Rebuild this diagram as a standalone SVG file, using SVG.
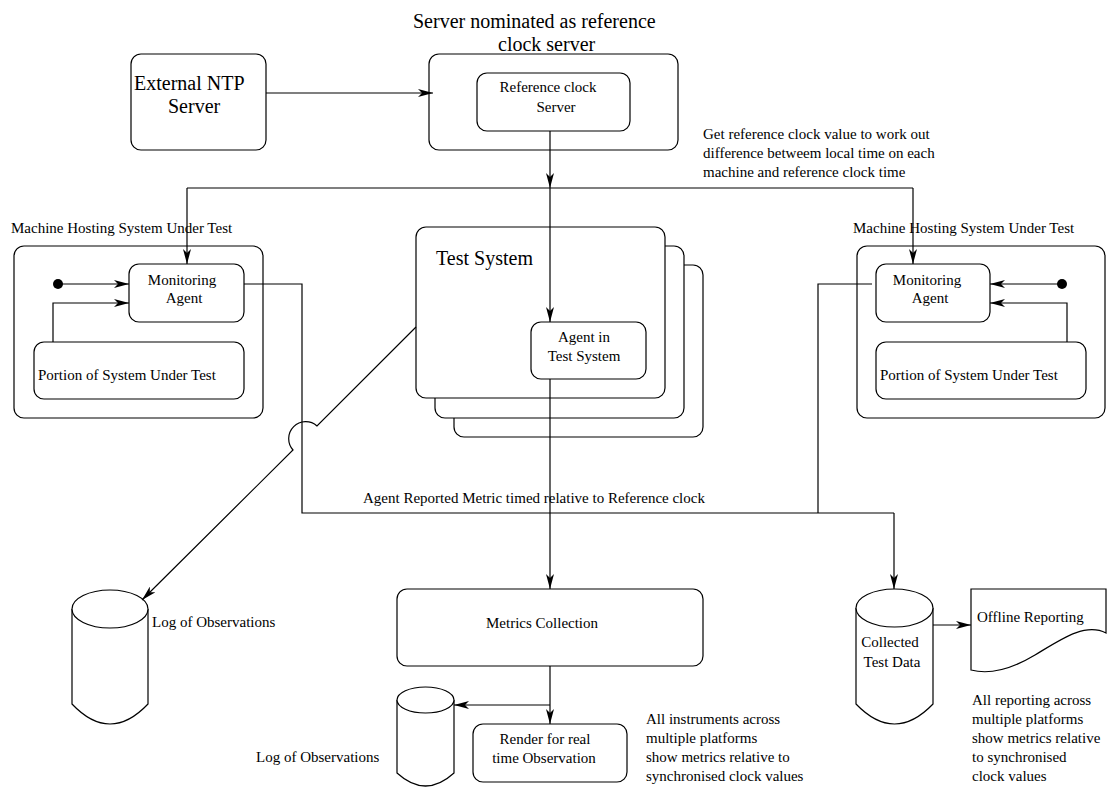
<svg xmlns="http://www.w3.org/2000/svg" width="1107" height="787" viewBox="0 0 1107 787">
<style>
text{font-family:"Liberation Serif","Times New Roman",serif;fill:#000}
.s15{font-size:15px}
.s20{font-size:20px}
.box{fill:#fff;stroke:#000;stroke-width:1.2}
.ln{fill:none;stroke:#000;stroke-width:1.2}
.arr{marker-end:url(#ah)}
.m{text-anchor:middle}
</style>
<defs>
<marker id="ah" viewBox="0 0 15 8" refX="15" refY="4" markerWidth="15" markerHeight="8" markerUnits="userSpaceOnUse" orient="auto">
<path d="M0,0 L15,4 L0,8 L4,4 Z" fill="#000"/>
</marker>
</defs>
<rect width="1107" height="787" fill="#fff"/>

<g id="ntp">
<rect class="box" x="131" y="54" width="135" height="96" rx="10"/>
<text class="s20" x="134" y="90">External NTP</text>
<text class="s20" x="168" y="113">Server</text>
</g>

<g id="refserver">
<text class="s20" x="413" y="28">Server nominated as reference</text>
<text class="s20" x="498" y="51">clock server</text>
<rect class="box" x="429" y="54" width="249" height="96" rx="10"/>
</g>
<g id="refclock">
<rect class="box" x="477" y="73" width="153" height="58" rx="10"/>
<text class="s15 m" x="548" y="92">Reference clock</text>
<text class="s15 m" x="556" y="112">Server</text>
</g>

<text class="s15" x="703" y="139">Get reference clock value to work out</text>
<text class="s15" x="703" y="158">difference betweem local time on each</text>
<text class="s15" x="703" y="177">machine and reference clock time</text>

<g id="machineL">
<text class="s15" x="11" y="233">Machine Hosting System Under Test</text>
<rect class="box" x="14" y="246" width="249" height="172" rx="10"/>
</g>
<g id="monL">
<rect class="box" x="129" y="264" width="115" height="58" rx="10"/>
<text class="s15 m" x="182" y="285">Monitoring</text>
<text class="s15 m" x="184" y="303">Agent</text>
</g>
<g id="portionL">
<rect class="box" x="34" y="342" width="210" height="57" rx="10"/>
<text class="s15" x="38" y="380">Portion of System Under Test</text>
</g>

<g id="machineR">
<text class="s15" x="853" y="233">Machine Hosting System Under Test</text>
<rect class="box" x="857" y="246" width="248" height="172" rx="10"/>
</g>
<g id="monR">
<rect class="box" x="876" y="264" width="114" height="58" rx="10"/>
<text class="s15 m" x="927" y="285">Monitoring</text>
<text class="s15 m" x="930" y="303">Agent</text>
</g>
<g id="portionR">
<rect class="box" x="876" y="342" width="210" height="57" rx="10"/>
<text class="s15" x="880" y="380">Portion of System Under Test</text>
</g>

<g id="testsystem">
<rect class="box" x="454" y="265" width="249" height="172" rx="10"/>
<rect class="box" x="435" y="246" width="249" height="172" rx="10"/>
<rect class="box" x="416" y="227" width="249" height="171" rx="10"/>
<text class="s20" x="436" y="265">Test System</text>
</g>
<g id="agentTS">
<rect class="box" x="531" y="322" width="115" height="57" rx="10"/>
<text class="s15 m" x="584" y="342">Agent in</text>
<text class="s15 m" x="584" y="361">Test System</text>
</g>

<text class="s15" x="363" y="503">Agent Reported Metric timed relative to Reference clock</text>

<g id="logL">
<path class="box" d="M72,609 L72,704 Q110,744 148,704 L148,609"/>
<ellipse class="box" cx="110" cy="609" rx="38" ry="19"/>
<text class="s15" x="152" y="627">Log of Observations</text>
</g>

<g id="metrics">
<rect class="box" x="397" y="589" width="306" height="77" rx="10"/>
<text class="s15 m" x="542" y="628">Metrics Collection</text>
</g>

<g id="logS">
<path class="box" d="M397,700 L397,773 Q425.5,799 454,773 L454,700"/>
<ellipse class="box" cx="425.5" cy="700" rx="28.5" ry="13"/>
<text class="s15" x="256" y="762">Log of Observations</text>
</g>

<g id="render">
<rect class="box" x="473" y="724" width="154" height="58" rx="10"/>
<text class="s15 m" x="545" y="744">Render for real</text>
<text class="s15 m" x="544" y="763">time Observation</text>
</g>

<text class="s15" x="646" y="724">All instruments across</text>
<text class="s15" x="646" y="743">multiple platforms</text>
<text class="s15" x="646" y="762">show metrics relative to</text>
<text class="s15" x="646" y="781">synchronised clock values</text>

<g id="collected">
<path class="box" d="M856,608 L856,704 Q894.5,744 933,704 L933,608"/>
<ellipse class="box" cx="894.5" cy="608" rx="38.5" ry="19"/>
<text class="s15 m" x="890" y="647">Collected</text>
<text class="s15 m" x="892" y="667">Test Data</text>
</g>

<g id="offline">
<path class="box" d="M971,589 L1106,589 L1106,633 C1085,622 1060,640 1035,655 C1010,670 990,675 971,670 Z"/>
<text class="s15" x="977" y="622">Offline Reporting</text>
</g>

<text class="s15" x="972" y="705">All reporting across</text>
<text class="s15" x="972" y="724">multiple platforms</text>
<text class="s15" x="972" y="743">show metrics relative</text>
<text class="s15" x="972" y="762">to synchronised</text>
<text class="s15" x="972" y="781">clock values</text>

<g id="connectors">
<path class="ln arr" d="M266,93 L433,93"/>
<path class="ln arr" d="M550,131 L550,188"/>
<path class="ln" d="M187,188 L913,188"/>
<path class="ln arr" d="M187,188 L187,264"/>
<path class="ln arr" d="M913,188 L913,264"/>
<path class="ln arr" d="M550,188 L550,322"/>
<circle cx="58" cy="284" r="5" fill="#000"/>
<path class="ln arr" d="M58,284 L129,284"/>
<path class="ln arr" d="M53,342 L53,303 L129,303"/>
<circle cx="1062" cy="284" r="5" fill="#000"/>
<path class="ln arr" d="M1062,284 L990,284"/>
<path class="ln arr" d="M1067,342 L1067,303 L990,303"/>
<path class="ln" d="M244,284 L302,284 L302,513 L894,513"/>
<path class="ln arr" d="M894,513 L894,589"/>
<path class="ln" d="M872,284 L818,284 L818,513"/>
<path class="ln arr" d="M416,327 L317,426 A17 17 0 0 0 293,450 L142,600"/>
<path class="ln arr" d="M550,379 L550,589"/>
<path class="ln arr" d="M550,666 L550,724"/>
<path class="ln arr" d="M550,705 L454,705"/>
<path class="ln arr" d="M933,625 L971,625"/>
</g>
</svg>
